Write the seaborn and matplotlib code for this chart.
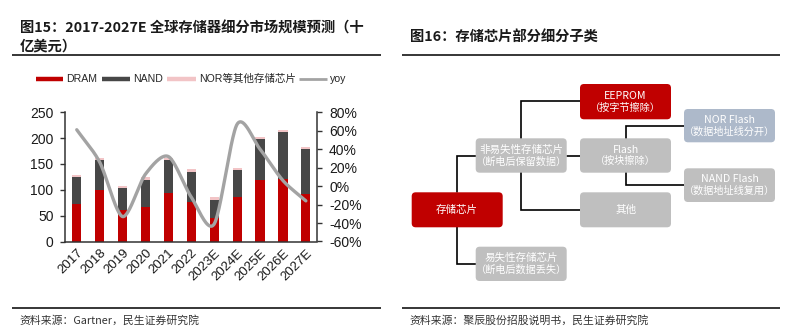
import numpy as np
import pandas as pd
import matplotlib
matplotlib.use("Agg")
import matplotlib.pyplot as plt
import seaborn as sns
from matplotlib.patches import FancyBboxPatch
from matplotlib.ticker import FuncFormatter

# ---------------- data ----------------
years = ["2017", "2018", "2019", "2020", "2021", "2022",
         "2023E", "2024E", "2025E", "2026E", "2027E"]
dram = [72, 100, 61, 66, 93, 77, 46, 87, 119, 121, 92]          # 十亿美元
nand = [52, 57, 42, 53, 64, 58, 34, 51, 79, 90, 86]
nor_other = [5, 4, 5, 5, 5, 6, 6, 5, 5, 4, 4]
yoy = [61, 26, -33, 13, 32, -12, -41, 67, 40, 6, -16]             # %

series_names = ["DRAM", "NAND", "NOR等其他存储芯片", "yoy"]
left_ticks = [0, 50, 100, 150, 200, 250]
right_ticks = [-60, -40, -20, 0, 20, 40, 60, 80]

title_left = ["图15：2017-2027E 全球存储器细分市场规模预测（十", "亿美元）"]
title_right = "图16：存储芯片部分细分子类"
source_left = "资料来源：Gartner，民生证券研究院"
source_right = "资料来源：聚辰股份招股说明书，民生证券研究院"

# ---------------- style ----------------
sns.set_style("white")
plt.rcParams["font.family"] = ["Liberation Sans", "Noto Sans CJK SC", "DejaVu Sans"]
CJK = ["Noto Sans CJK SC", "DejaVu Sans"]

RED = "#C00000"
DARK = "#474747"
PINK = "#F2C4C6"
LINE = "#A3A3A3"
GRAY_BOX = "#BFBFBF"
BLUE_BOX = "#ADB9CA"

W, H = 800, 334
fig = plt.figure(figsize=(W / 100, H / 100), dpi=100)
fig.patch.set_facecolor("white")

# full-figure canvas in pixel coordinates for titles, rules and the diagram
cv = fig.add_axes([0, 0, 1, 1])
cv.set_xlim(0, W)
cv.set_ylim(H, 0)
cv.axis("off")


def px_rect(x0, y0, x1, y1):
    return [x0 / W, 1 - y1 / H, (x1 - x0) / W, (y1 - y0) / H]


# ---------------- titles, rules, sources ----------------
cv.text(20, 29, title_left[0], family=CJK, fontsize=10.3, fontweight="bold",
        color="#1a1a1a", va="center", ha="left")
cv.text(20, 46.5, title_left[1], family=CJK, fontsize=10.3, fontweight="bold",
        color="#1a1a1a", va="center", ha="left")
cv.text(410, 37, title_right, family=CJK, fontsize=10.3, fontweight="bold",
        color="#1a1a1a", va="center", ha="left")
for (xa, xb) in [(12, 381), (402, 780)]:
    cv.plot([xa, xb], [54.5, 54.5], color="black", lw=1.1, solid_capstyle="butt")
    cv.plot([xa, xb], [307.7, 307.7], color="black", lw=1.1, solid_capstyle="butt")
cv.text(19, 320, source_left, family=CJK, fontsize=7.8, color="#333333",
        va="center", ha="left")
cv.text(409, 320, source_right, family=CJK, fontsize=7.8, color="#333333",
        va="center", ha="left")

# ---------------- legend ----------------
leg_y = 79
leg_items = [
    (36, 63, RED, 3.2, 66.5, series_names[0]),
    (102, 130, DARK, 3.2, 133, series_names[1]),
    (167, 196, PINK, 3.2, 199, series_names[2]),
    (299, 327, LINE, 2.0, 329.5, series_names[3]),
]
for xa, xb, col, lw, xt, label in leg_items:
    cv.plot([xa, xb], [leg_y, leg_y], color=col, lw=lw, solid_capstyle="butt")
    cv.text(xt, leg_y, label, fontsize=7.6, color="#262626", va="center", ha="left")

# ---------------- stacked bars ----------------
df = pd.DataFrame({"year": years, "dram": dram, "nand": nand, "nor": nor_other})
df["top_nand"] = df["dram"] + df["nand"]
df["top_all"] = df["top_nand"] + df["nor"]

ax = fig.add_axes(px_rect(65.3, 112.2, 317.3, 241.5))
ax.patch.set_alpha(0)
for col, colour in [("top_all", PINK), ("top_nand", DARK), ("dram", RED)]:
    sns.barplot(data=df, x="year", y=col, order=years, color=colour, width=0.4,
                saturation=1, linewidth=0, ax=ax, zorder=2)
ax.set_xlim(-0.5, len(years) - 0.5)
ax.set_ylim(0, 250)
ax.set_yticks(left_ticks)
ax.set_xlabel("")
ax.set_ylabel("")
ax.set_xticks(range(len(years)))
ax.set_xticklabels(years, rotation=45, ha="right", rotation_mode="anchor")
ax.set_xticks(np.arange(-0.5, len(years), 1), minor=True)
ax.tick_params(axis="x", which="major", length=0, pad=4, labelsize=9.5,
               labelcolor="#1a1a1a")
ax.tick_params(axis="x", which="minor", length=3, width=1, direction="out",
               color="#333333")
ax.tick_params(axis="y", length=3.5, width=1, direction="out", pad=5,
               labelsize=10, labelcolor="#1a1a1a", color="#333333", left=True)
for s in ["top", "right"]:
    ax.spines[s].set_visible(False)
for s in ["left", "bottom"]:
    ax.spines[s].set_color("#333333")
    ax.spines[s].set_linewidth(1.1)

# ---------------- yoy smoothed line ----------------
ax2 = ax.twinx()
ax2.set_ylim(-60, 80)
ax2.set_yticks(right_ticks)
ax2.yaxis.set_major_formatter(FuncFormatter(lambda v, _: f"{int(v)}%"))
ax2.tick_params(axis="y", length=3.5, width=1, direction="out", pad=5,
                labelsize=10, labelcolor="#1a1a1a", color="#333333", right=True)
for s in ["top", "left", "bottom"]:
    ax2.spines[s].set_visible(False)
ax2.spines["right"].set_color("#333333")
ax2.spines["right"].set_linewidth(1.1)


def smooth_curve(xs, ys, n=40):
    """Catmull-Rom style smoothing through every point (like a smoothed line chart)."""
    pts = np.column_stack([xs, ys]).astype(float)
    ext = np.vstack([2 * pts[0] - pts[1], pts, 2 * pts[-1] - pts[-2]])
    t = np.linspace(0, 1, n, endpoint=False)[:, None]
    h00 = 2 * t**3 - 3 * t**2 + 1
    h10 = t**3 - 2 * t**2 + t
    h01 = -2 * t**3 + 3 * t**2
    h11 = t**3 - t**2
    out = []
    for i in range(1, len(ext) - 2):
        p0, p1, p2, p3 = ext[i - 1], ext[i], ext[i + 1], ext[i + 2]
        m1 = (p2 - p0) / 2 * 0.85
        m2 = (p3 - p1) / 2 * 0.85
        out.append(h00 * p1 + h10 * m1 + h01 * p2 + h11 * m2)
    out.append(pts[-1][None, :])
    seg = np.vstack(out)
    return seg[:, 0], seg[:, 1]


sx, sy = smooth_curve(np.arange(len(years)), yoy)
sns.lineplot(x=sx, y=sy, sort=False, color=LINE, lw=2.4, ax=ax2,
             solid_capstyle="round", zorder=3)
ax2.set_xlim(-0.5, len(years) - 0.5)
ax2.set_ylabel("")

# ---------------- classification diagram ----------------
boxes = {
    "root":     (411.7, 192.3, 502.7, 227.3, RED, ["存储芯片"]),
    "nonvol":   (475.7, 138.3, 566.7, 172.7, GRAY_BOX, ["非易失性存储芯片", "（断电后保留数据）"]),
    "vol":      (475.7, 246.7, 566.7, 281.0, GRAY_BOX, ["易失性存储芯片", "（断电后数据丢失）"]),
    "eeprom":   (580.0, 84.0, 671.0, 119.3, RED, ["EEPROM", "（按字节擦除）"]),
    "flash":    (580.0, 138.3, 671.0, 172.7, GRAY_BOX, ["Flash", "（按块擦除）"]),
    "other":    (580.0, 192.3, 671.0, 227.3, GRAY_BOX, ["其他"]),
    "norflash": (684.0, 109.0, 775.0, 142.3, BLUE_BOX, ["NOR Flash", "（数据地址线分开）"]),
    "nandflash": (684.0, 168.3, 775.0, 202.0, GRAY_BOX, ["NAND Flash", "（数据地址线复用）"]),
}

connectors = [
    [(457.3, 192.3), (457.3, 155.7), (475.7, 155.7)],
    [(457.3, 227.3), (457.3, 264.0), (475.7, 264.0)],
    [(580.0, 101.3), (521.0, 101.3), (521.0, 210.0), (580.0, 210.0)],
    [(566.7, 155.7), (580.0, 155.7)],
    [(684.0, 126.0), (625.7, 126.0), (625.7, 185.0), (684.0, 185.0)],
]
for path in connectors:
    xs, ys = zip(*path)
    cv.plot(xs, ys, color="black", lw=1.2, zorder=1, solid_joinstyle="miter")

for key, (x0, y0, x1, y1, col, lines) in boxes.items():
    r = 4
    cv.add_patch(FancyBboxPatch((x0 + r, y0 + r), (x1 - x0) - 2 * r, (y1 - y0) - 2 * r,
                                boxstyle=f"round,pad={r}", facecolor=col,
                                edgecolor="none", zorder=2))
    cx, cy = (x0 + x1) / 2, (y0 + y1) / 2
    if len(lines) == 1:
        cv.text(cx, cy, lines[0], family=CJK, fontsize=7.6, color="white",
                ha="center", va="center", zorder=3)
    else:
        cv.text(cx, cy - 5.8, lines[0], family=CJK, fontsize=7.6, color="white",
                ha="center", va="center", zorder=3)
        cv.text(cx, cy + 5.8, lines[1], family=CJK, fontsize=7.3, color="white",
                ha="center", va="center", zorder=3)

fig.savefig("out.png", dpi=100, facecolor="white")
